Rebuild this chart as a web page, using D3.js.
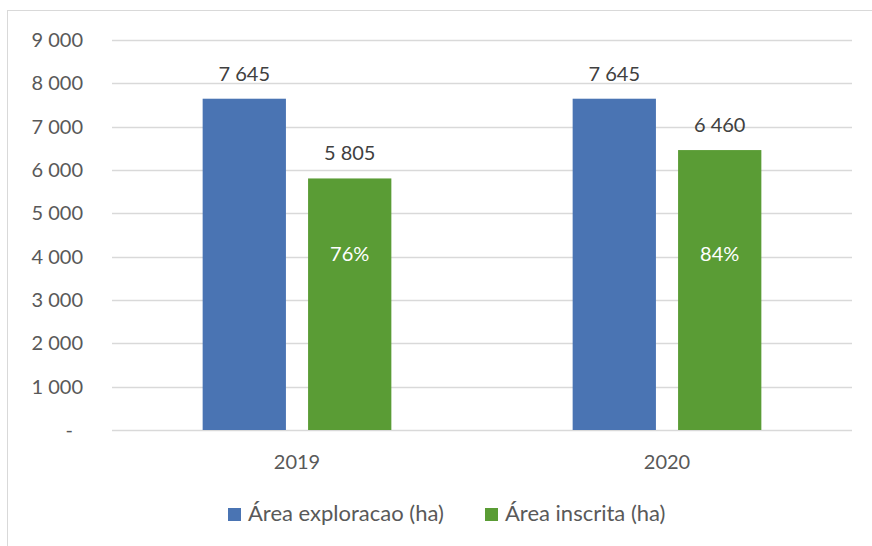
<!DOCTYPE html>
<html>
<head>
<meta charset="utf-8">
<script src="https://cdn.jsdelivr.net/npm/d3@7"></script>
<style>
  body { margin: 0; background: #fff; }
  text { font-family: Lato, 'Open Sans', sans-serif; fill: #595959; }
</style>
</head>
<body>
<script>
(function () {
  'use strict'

  var years = ['2019', '2020']
  var series = ['Área exploracao (ha)', 'Área inscrita (ha)']
  var exploracao = [7645, 7645]
  var inscrita = [5805, 6460]
  var shares = ['76%', '84%']
  var yTicks = [0, 1000, 2000, 3000, 4000, 5000, 6000, 7000, 8000, 9000]
  var colors = ['#4a74b3', '#5a9c35']

  var w = 872
  var h = 546
  var left = 112
  var right = 852
  var top = 40
  var bottom = 430

  var svg = d3.select('body').append('svg')
    .attr('width', w)
    .attr('height', h)

  // chart border
  svg.append('rect')
    .attr('x', 7.5).attr('y', 10.5)
    .attr('width', 880).attr('height', 560)
    .attr('fill', 'none')
    .attr('stroke', '#d9d9d9')

  var y = d3.scaleLinear().domain([0, 9000]).range([bottom, top])
  var x0 = d3.scaleBand().domain(years).range([left, right])
    .paddingInner(0.49).paddingOuter(0.245)
  var x1 = d3.scaleBand().domain(series).range([0, x0.bandwidth()])
    .paddingInner(0.21)

  var fmt = function (v) {
    return v === 0 ? '-' : d3.format(',')(v).replace(/,/g, ' ')
  }

  // gridlines
  svg.append('g').selectAll('line')
    .data(yTicks)
    .enter().append('line')
      .attr('x1', left).attr('x2', right)
      .attr('y1', function (d) { return Math.round(y(d)) + 0.5 })
      .attr('y2', function (d) { return Math.round(y(d)) + 0.5 })
      .attr('stroke', '#d9d9d9')
      .attr('stroke-width', 1.5)

  // y labels
  svg.append('g').selectAll('text')
    .data(yTicks)
    .enter().append('text')
      .attr('x', function (d) { return d === 0 ? 73 : 83 })
      .attr('y', function (d) { return y(d) + 7 })
      .attr('text-anchor', 'end')
      .style('font-size', '20px')
      .text(fmt)

  var rows = years.map(function (yr, i) {
    return [
      { year: yr, s: series[0], v: exploracao[i], c: colors[0] },
      { year: yr, s: series[1], v: inscrita[i], c: colors[1], share: shares[i] }
    ]
  })
  var flat = [].concat.apply([], rows)

  svg.append('g').selectAll('rect')
    .data(flat)
    .enter().append('rect')
      .attr('x', function (d) { return x0(d.year) + x1(d.s) })
      .attr('y', function (d) { return y(d.v) })
      .attr('width', x1.bandwidth())
      .attr('height', function (d) { return y(0) - y(d.v) })
      .attr('fill', function (d) { return d.c })

  // value labels
  svg.append('g').selectAll('text')
    .data(flat)
    .enter().append('text')
      .attr('x', function (d) { return x0(d.year) + x1(d.s) + x1.bandwidth() / 2 })
      .attr('y', function (d) { return y(d.v) - 18 })
      .attr('text-anchor', 'middle')
      .style('font-size', '20px')
      .style('fill', '#404040')
      .text(function (d) { return fmt(d.v) })

  // share labels inside green bars
  svg.append('g').selectAll('text')
    .data(flat.filter(function (d) { return d.share }))
    .enter().append('text')
      .attr('x', function (d) { return x0(d.year) + x1(d.s) + x1.bandwidth() / 2 })
      .attr('y', y(3900))
      .attr('text-anchor', 'middle')
      .style('font-size', '20px')
      .style('fill', '#ffffff')
      .text(function (d) { return d.share })

  // category labels
  svg.append('g').selectAll('text')
    .data(years)
    .enter().append('text')
      .attr('x', function (d) { return x0(d) + x0.bandwidth() / 2 })
      .attr('y', 469)
      .attr('text-anchor', 'middle')
      .style('font-size', '20px')
      .text(function (d) { return d })

  // legend
  var legX = [228, 485]
  var leg = svg.append('g').selectAll('g')
    .data(series)
    .enter().append('g')
      .attr('transform', function (d, i) { return 'translate(' + legX[i] + ',508)' })
  leg.append('rect')
    .attr('width', 13).attr('height', 13)
    .attr('fill', function (d, i) { return colors[i] })
  leg.append('text')
    .attr('x', 20).attr('y', 13)
    .style('font-size', '22px')
    .text(function (d) { return d })
}())
</script>
</body>
</html>
